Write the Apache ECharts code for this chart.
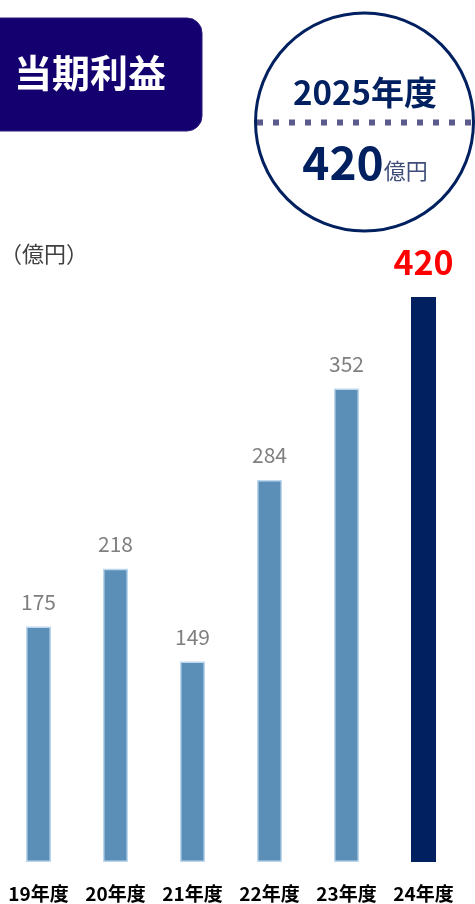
<!DOCTYPE html>
<html><head><meta charset="utf-8">
<script src="https://cdn.jsdelivr.net/npm/echarts@6/dist/echarts.min.js"></script>
<style>html,body{margin:0;padding:0;background:#fff}#c{width:475px;height:904px}</style>
</head><body><div id="c"></div>
<script>
const categories = ['19年度','20年度','21年度','22年度','23年度','24年度'];
const profitValues = [175, 218, 149, 284, 352, 420];
const highlightIndex = 5;
const titleText = '当期利益';
const unitText = '（億円）';
const badgeYear = '2025年度';
const badgeValue = '420';
const badgeUnit = '億円';

const FONT = '"Noto Sans CJK JP", "Noto Sans", sans-serif';
const NAVY = '#002060';

const seriesData = profitValues.map((v, i) => {
  if (i === highlightIndex) {
    return {
      value: v,
      itemStyle: { color: NAVY, borderWidth: 0 },
      label: { color: '#ff0000', fontSize: 34, fontWeight: 'bold', distance: 18 }
    };
  }
  return v;
});

const chart = echarts.init(document.getElementById('c'), null, { renderer: 'canvas' });
chart.setOption({
  animation: false,
  grid: { left: 0, right: 13, top: 297, bottom: 42, containLabel: false },
  xAxis: {
    type: 'category',
    data: categories,
    axisLine: { show: false },
    axisTick: { show: false },
    axisLabel: { color: '#000', fontSize: 19, fontWeight: 'bold', fontFamily: FONT, margin: 22, interval: 0 }
  },
  yAxis: { type: 'value', min: 0, max: 420, show: false, splitLine: { show: false } },
  series: [{
    type: 'bar',
    data: seriesData,
    barWidth: 25,
    itemStyle: { color: '#5b8fb7', borderColor: '#bdd7ee', borderWidth: 1.5 },
    label: { show: true, position: 'top', distance: 14, color: '#7f7f7f', fontSize: 21, fontFamily: FONT }
  }],
  graphic: [
    { type: 'rect', shape: { x: -20, y: 18, width: 222, height: 113, r: 15 },
      style: { fill: '#14006e', stroke: '#2a1a80', lineWidth: 1 } },
    { type: 'text', x: 14, y: 73,
      style: { text: titleText, fill: '#fff', font: 'bold 38px ' + FONT, textVerticalAlign: 'middle', textAlign: 'left' } },
    { type: 'circle', shape: { cx: 364.5, cy: 122, r: 109 },
      style: { fill: '#fff', stroke: NAVY, lineWidth: 3 } },
    { type: 'line', shape: { x1: 257, y1: 122.5, x2: 474, y2: 122.5 },
      style: { stroke: '#5a5a8c', lineWidth: 6, lineDash: [6, 10] } },
    { type: 'text', x: 365, y: 92,
      style: { text: badgeYear, fill: NAVY, font: 'bold 33px ' + FONT, textAlign: 'center', textVerticalAlign: 'middle' } },
    { type: 'text', x: 365, y: 163,
      style: {
        text: '{a|' + badgeValue + '}{b|' + badgeUnit + '}',
        textAlign: 'center', textVerticalAlign: 'middle',
        rich: {
          a: { fill: NAVY, fontSize: 46, fontWeight: 'bold', fontFamily: FONT, verticalAlign: 'bottom' },
          b: { fill: '#3f4d78', fontSize: 22, fontFamily: FONT, verticalAlign: 'bottom', padding: [0, 0, 4, 0] }
        }
      } },
    { type: 'text', x: 0, y: 254,
      style: { text: unitText, fill: '#404040', font: '22px ' + FONT, textAlign: 'left', textVerticalAlign: 'middle' } }
  ]
});
</script>
</body></html>
